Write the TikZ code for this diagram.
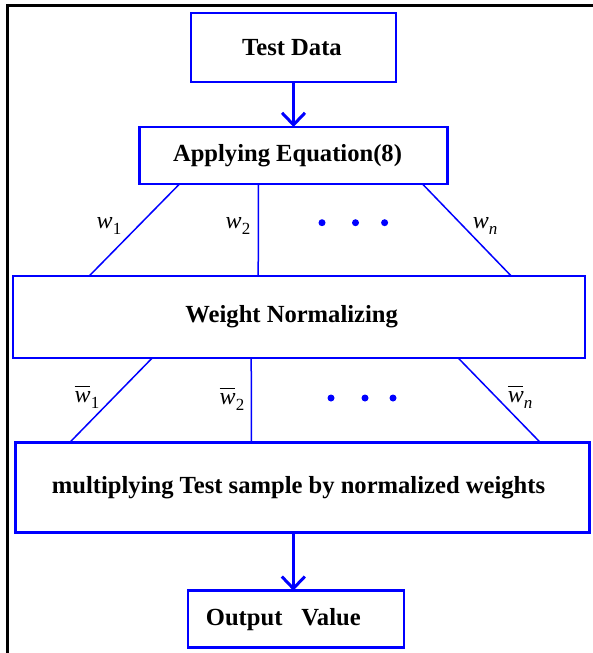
\documentclass[tikz,border=0pt]{standalone}
\usepackage{fontspec}
\setmainfont{Liberation Serif}
\usetikzlibrary{arrows.meta,positioning}

\newcommand{\wsub}[1]{\textit{w}\raisebox{-6pt}{\fontsize{17}{17}\selectfont #1}}
\newcommand{\wbarsub}[1]{\rlap{\rule[16pt]{15pt}{0.9pt}}\textit{w}\raisebox{-6pt}{\fontsize{17}{17}\selectfont #1}}

\begin{document}
\begin{tikzpicture}[
        x=1pt, y=-1pt,
        caja/.style={draw=blue, line width=2.5pt, inner sep=0pt, outer sep=0pt, font=\fontsize{24.6}{30}\selectfont\bfseries},
        rama/.style={draw=blue, line width=1.5pt},
        peso/.style={inner sep=0pt, font=\fontsize{24}{28}\selectfont},
        flecha/.style={-{Straight Barb[length=12pt, width=23pt]}, draw=blue, line width=3pt}
    ]
        \useasboundingbox (0,0) rectangle (593,653);
        \draw[line width=2.5pt] (7.5,653) -- (7.5,5.5) -- (593,5.5);

        \node[caja, minimum width=205pt, minimum height=69pt] (test) at (293.5,47.5) {Test Data\hspace*{3pt}};
        \node[caja, minimum width=308pt, minimum height=57pt, below=45pt of test] (apply) {Applying Equation(8)\hspace*{12pt}};
        \node[caja, minimum width=572pt, minimum height=82pt, below=92pt of apply, xshift=5.7pt] (norm) {Weight Normalizing\hspace*{15pt}};
        \node[caja, minimum width=574pt, minimum height=90pt, below=84.7pt of norm, xshift=3.3pt] (mult) {multiplying Test sample by normalized weights\hspace*{8pt}};
        \node[caja, minimum width=216pt, minimum height=57pt, below=58pt of mult, xshift=-6.7pt] (out) {Output\hspace{19pt}Value\hspace*{25pt}};

        % puntos de salida y llegada de las ramas
        \coordinate (a1) at ([xshift=40pt]apply.south west);
        \coordinate (a2) at ([xshift=119pt]apply.south west);
        \coordinate (a3) at ([xshift=-25pt]apply.south east);
        \coordinate (n1) at ([xshift=76pt]norm.north west);
        \coordinate (n2) at ([xshift=245pt]norm.north west);
        \coordinate (n3) at ([xshift=-74pt]norm.north east);
        \coordinate (b1) at ([xshift=139pt]norm.south west);
        \coordinate (b2) at ([xshift=238pt]norm.south west);
        \coordinate (b3) at ([xshift=-127pt]norm.south east);
        \coordinate (m1) at ([xshift=54pt]mult.north west);
        \coordinate (m2) at ([xshift=236pt]mult.north west);
        \coordinate (m3) at ([xshift=-49pt]mult.north east);

        \draw[flecha] (test) -- (apply);
        \draw[rama] (a1) -- (n1);
        \draw[rama] (a2) -- (n2);
        \draw[rama] (a3) -- (n3);
        \draw[rama] (b1) -- (m1);
        \draw[rama] (b2) -- (m2);
        \draw[rama] (b3) -- (m3);
        \draw[flecha] ([xshift=-2.5pt]out.north |- mult.south) -- ([xshift=-2.5pt]out.north);

        \node[peso] (w1) at (109,226) {\wsub{1}};
        \node[peso] (w2) at (238,226) {\wsub{2}};
        \node[peso] (wn) at (485,226) {\wsub{\textit{n}}};
        \node[peso] (v1) at (87,397) {\wbarsub{1}};
        \node[peso] (v2) at (232,399) {\wbarsub{2}};
        \node[peso] (vn) at (520,397) {\wbarsub{\textit{n}}};

        \foreach \x/\y in {322/222.7, 355.5/222.7, 384.6/222.7, 331/398, 365/398, 393/398}
            \fill[blue] (\x,\y) circle (3.5pt);
    \end{tikzpicture}
\end{document}
